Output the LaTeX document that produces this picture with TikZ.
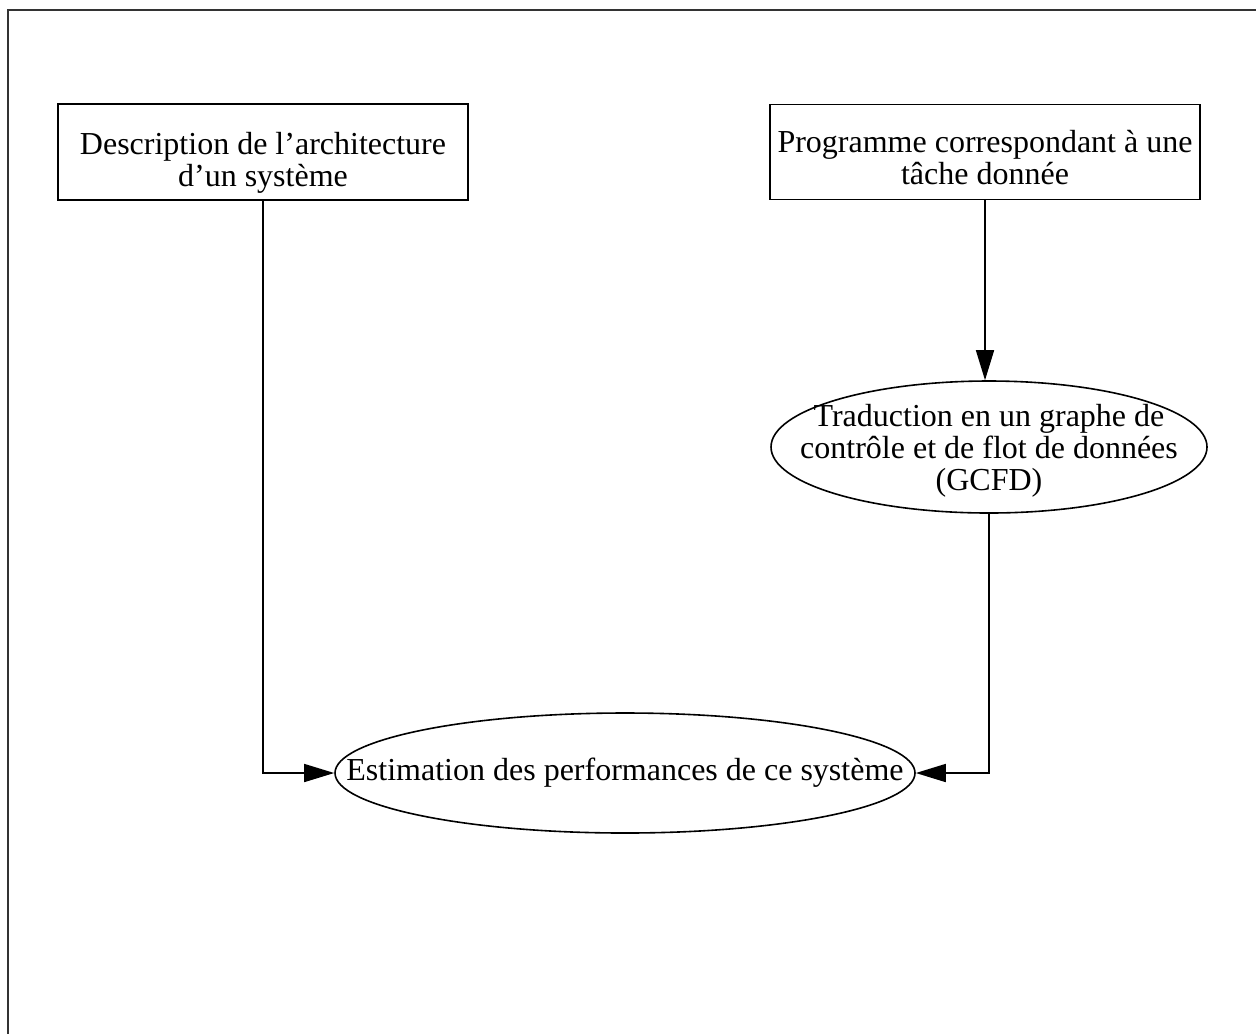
\documentclass[tikz,border=0pt]{standalone}
\usepackage{fontspec}
\setmainfont{Liberation Serif}
\usetikzlibrary{shapes.geometric,arrows.meta}
\begin{document}
\begin{tikzpicture}[x=0.5pt,y=-0.5pt,
  every node/.style={font=\fontsize{16}{16}\selectfont, align=center, inner sep=0pt},
  box/.style={draw, line width=0.8pt, rectangle},
  oval/.style={draw, line width=0.8pt, ellipse, inner xsep=-60pt, inner ysep=-20pt},
  link/.style={line width=0.8pt, -{Triangle[length=15pt,width=9pt]}}]
  \useasboundingbox (0,0) rectangle (1256,1034);
  % outer frame (top and left edges)
  \draw[line width=0.8pt, black!80] (1256,10) -- (8,10) -- (8,1034);

  \node[box, minimum width=410*0.5pt, minimum height=96*0.5pt] (arch) at (263,152)
    {\rule{0pt}{22pt}Description de l'architecture\\d'un système};
  \node[box, minimum width=430*0.5pt, minimum height=95*0.5pt] (prog) at (985,152)
    {\rule{0pt}{17pt}Programme correspondant à une\\tâche donnée};
  \node[oval, minimum width=436*0.5pt, minimum height=132*0.5pt] (gcfd) at (989,447)
    {\rule{0pt}{15pt}Traduction en un graphe de\\contrôle et de flot de données\\(GCFD)};
  \node[oval, minimum width=580*0.5pt, minimum height=120*0.5pt] (est) at (625,773)
    {Estimation des performances de ce système};

  \draw[link] (prog) -- (prog |- gcfd.north);
  \draw[link] (arch.south) |- (est.west);
  \draw[link] (gcfd.south) |- (est.east);
\end{tikzpicture}
\end{document}
